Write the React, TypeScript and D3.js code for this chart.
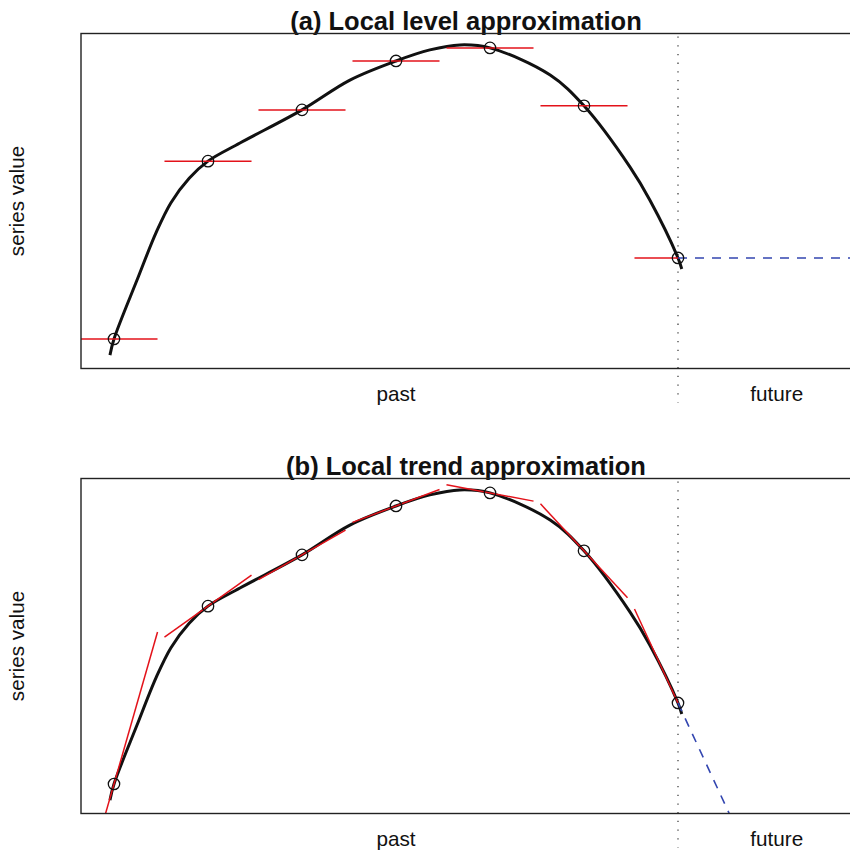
import React from "react";
import * as d3 from "d3";

const timeIndex = [1, 2, 3, 4, 5, 6, 7];
const observed = [8.8, 61.9, 77.2, 91.8, 95.7, 78.4, 33.0];
// local slopes for the trend panel (value units per time step)
const trendSlope = [98, 20, 16, 10.6, -5.3, -30.3, -60.6];

// underlying smooth curve
const curveT = [0.957, 1, 1.245, 1.45, 1.606, 1.8, 2, 2.34, 3, 3.51, 4, 4.36, 4.68, 5, 5.64, 6, 6.49, 6.7, 7, 7.04];
const curveV = [4.0, 8.8, 26.4, 40.7, 49.5, 56.8, 61.9, 67.3, 77.2, 86.1, 91.8, 95.1, 96.6, 95.7, 87.6, 78.4, 60.1, 50.3, 33.0, 29.7];

const panelTitles = ["(a) Local level approximation", "(b) Local trend approximation"];
const panelKinds = ["level", "trend"];
const forecastOrigin = 7;
const pastLabelAt = 4;
const futureLabelAt = 8.05;
const halfSpan = 0.463;

const W = 850;
const H = 850;
const left = 81;
const right = 853;
const panelH = 335;
const panelTops = [33.5, 478.5];

const x = d3.scaleLinear().domain([1, 7]).range([114, 678]);

const RED = "#e3121a";
const BLUE = "#3346b0";
const FONT = "'Liberation Sans', Arial, sans-serif";

function Panel({ idx }: { idx: number }) {
  const top = panelTops[idx];
  const bottom = top + panelH;
  const y = d3.scaleLinear().domain([0, 100]).range([bottom, top]);
  const kind = panelKinds[idx];
  const clipId = `clip-${idx}`;

  const curve = d3
    .line<number>()
    .x((d) => x(curveT[d]))
    .y((d) => y(curveV[d]))
    .curve(d3.curveCatmullRom.alpha(0.5))(curveT.map((_, i) => i));

  const segs = timeIndex.map((t, i) => {
    const slope = kind === "trend" ? trendSlope[i] : 0;
    const t0 = t - halfSpan;
    const t1 = t === forecastOrigin ? t : t + halfSpan;
    return {
      x1: x(t0),
      y1: y(observed[i] + slope * (t0 - t)),
      x2: x(t1),
      y2: y(observed[i] + slope * (t1 - t)),
    };
  });

  const last = observed.length - 1;
  const fSlope = kind === "trend" ? trendSlope[last] : 0;
  const tEnd = x.invert(right + 5);
  const fc = {
    x1: x(forecastOrigin),
    y1: y(observed[last]),
    x2: x(tEnd),
    y2: y(observed[last] + fSlope * (tEnd - forecastOrigin)),
  };

  const mid = (top + bottom) / 2;

  return (
    <g>
      <defs>
        <clipPath id={clipId}>
          <rect x={left} y={top} width={right - left} height={panelH} />
        </clipPath>
      </defs>
      <text
        x={466}
        y={top - 3.5}
        textAnchor="middle"
        fontFamily={FONT}
        fontWeight="bold"
        fontSize={25.5}
        fill="#111"
      >
        {panelTitles[idx]}
      </text>
      <text
        transform={`translate(23.5,${mid}) rotate(-90)`}
        textAnchor="middle"
        fontFamily={FONT}
        fontSize={20.7}
        fill="#111"
      >
        series value
      </text>
      <text x={x(pastLabelAt)} y={bottom + 32.5} textAnchor="middle" fontFamily={FONT} fontSize={20.7} fill="#111">
        past
      </text>
      <text x={x(futureLabelAt)} y={bottom + 32.5} textAnchor="middle" fontFamily={FONT} fontSize={20.7} fill="#111">
        future
      </text>
      <line
        x1={x(forecastOrigin)}
        x2={x(forecastOrigin)}
        y1={top + 3}
        y2={bottom + 34}
        stroke="#444"
        strokeWidth={1.3}
        strokeDasharray="1.3 7.4"
      />
      <g clipPath={`url(#${clipId})`}>
        <path d={curve ?? ""} fill="none" stroke="#111" strokeWidth={3} />
        {segs.map((s, i) => (
          <line key={i} {...s} stroke={RED} strokeWidth={1.5} />
        ))}
        <line {...fc} stroke={BLUE} strokeWidth={1.6} strokeDasharray="9 8" />
        {timeIndex.map((t, i) => (
          <circle
            key={i}
            cx={x(t)}
            cy={y(observed[i])}
            r={5.7}
            fill="none"
            stroke="#111"
            strokeWidth={1.3}
          />
        ))}
      </g>
      <rect
        x={left}
        y={top}
        width={right - left}
        height={panelH}
        fill="none"
        stroke="#222"
        strokeWidth={1.4}
      />
    </g>
  );
}

export default function App() {
  return (
    <svg
      width={W}
      height={H}
      style={{ position: "absolute", left: 0, top: 0, background: "#fff" }}
    >
      <rect width={W} height={H} fill="#fff" />
      {panelTitles.map((_, i) => (
        <Panel key={i} idx={i} />
      ))}
    </svg>
  );
}
